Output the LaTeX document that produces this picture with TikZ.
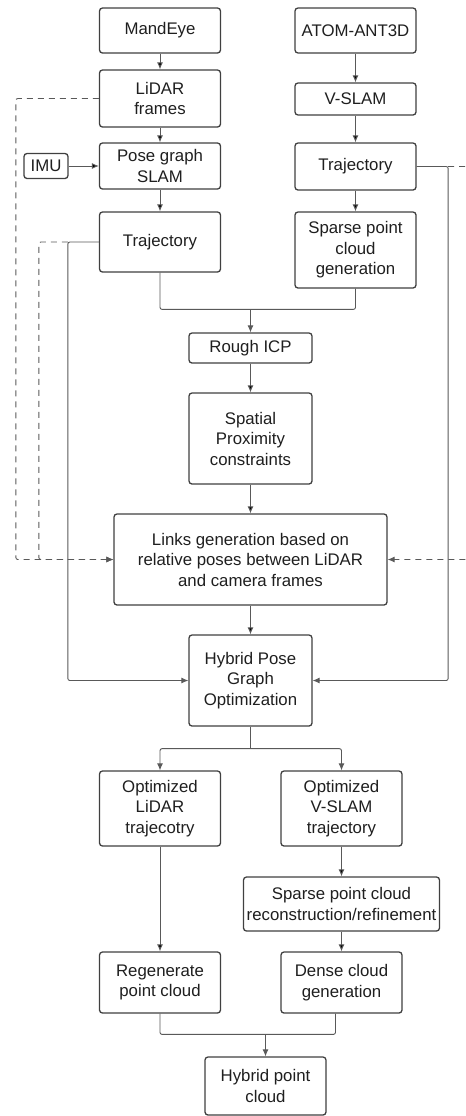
\documentclass[tikz,border=0pt]{standalone}
\usepackage{fontspec}
\setmainfont{Liberation Sans}
\usetikzlibrary{arrows.meta,positioning}

\begin{document}
\begin{tikzpicture}[x=1bp,y=1bp,on grid,
    blk/.style={draw=black!75,line width=1.3bp,rounded corners=3bp,fill=white,
        text=black!88,align=center,inner sep=2bp,minimum width=121bp,
        font=\fontsize{16.8bp}{20.5bp}\selectfont},
    link/.style={draw=black!65,line width=0.9bp,rounded corners=2bp,
        -{Latex[length=7bp,width=6bp]}},
    dlink/.style={link,dash pattern=on 6bp off 5bp}]
    \useasboundingbox (0,0) rectangle (466,-1116);
    % lidar branch
    \node[blk, minimum height=45bp] (mand) at (160,-30.5) {MandEye};
    \node[blk, minimum height=57bp] (lidar) [below=68bp of mand] {LiDAR\\frames};
    \node[blk, minimum height=46bp] (pose) [below=67.5bp of lidar] {Pose graph\\SLAM};
    \node[blk, minimum height=60bp] (traj_l) [below=76bp of pose] {Trajectory};
    \node[blk, minimum height=25bp, minimum width=44bp] (imu) [left=114bp of pose] {IMU};
    % camera branch
    \node[blk, minimum height=45bp] (atom) [right=195.5bp of mand] {ATOM-ANT3D};
    \node[blk, minimum height=32bp] (vslam) [below=68.5bp of atom] {V-SLAM};
    \node[blk, minimum height=47bp] (traj_r) [below=67.5bp of vslam] {Trajectory};
    \node[blk, minimum height=76bp] (sparse) [below=83.5bp of traj_r] {Sparse point\\cloud\\generation};
    % fusion
    \node[blk, minimum height=30bp, minimum width=123bp] (icp) [below right=106bp and 90.5bp of traj_l] {Rough ICP};
    \node[blk, minimum height=91bp, minimum width=123bp] (spatial) [below=90.5bp of icp] {Spatial\\Proximity\\constraints};
    \node[blk, minimum height=91bp, minimum width=273bp] (links) [below=121bp of spatial] {Links generation based on\\relative poses between LiDAR\\and camera frames};
    \node[blk, minimum height=91bp, minimum width=123bp] (hpgo) [below=121bp of links] {Hybrid Pose\\Graph\\Optimization};
    % outputs
    \node[blk, minimum height=75bp] (opt_l) [below left=128bp and 90.5bp of hpgo] {Optimized\\LiDAR\\trajecotry};
    \node[blk, minimum height=75bp] (opt_v) [right=181.5bp of opt_l] {Optimized\\V-SLAM\\trajectory};
    \node[blk, minimum height=54bp, minimum width=196bp] (recon) [below=95.5bp of opt_v] {Sparse point cloud\\reconstruction/refinement};
    \node[blk, minimum height=61bp] (regen) [below=174bp of opt_l] {Regenerate\\point cloud};
    \node[blk, minimum height=61bp] (dense) [right=181.5bp of regen] {Dense cloud\\generation};
    \node[blk, minimum height=58bp] (hpc) [below right=103.5bp and 105.5bp of regen] {Hybrid point\\cloud};

    \path[link]
        (mand) edge (lidar)
        (lidar) edge (pose)
        (imu) edge (pose)
        (pose) edge (traj_l)
        (atom) edge (vslam)
        (vslam) edge (traj_r)
        (traj_r) edge (sparse)
        (icp) edge (spatial)
        (spatial) edge (links)
        (links) edge (hpgo)
        (opt_l) edge (regen)
        (opt_v) edge (recon)
        (recon) edge (dense);

    % junctions
    \coordinate (mrg_a) at ([yshift=23bp]icp.north);
    \coordinate (spl) at ([yshift=-22bp]hpgo.south);
    \coordinate (mrg_b) at ([yshift=22bp]hpc.north);
    \coordinate (lft) at ([xshift=-31bp]traj_l.west);
    \coordinate (rgt) at ([xshift=31.5bp]traj_r.east);
    \coordinate (dl_a) at ([xshift=-83bp]lidar.west);
    \coordinate (dl_b) at ([xshift=-29bp]lft);
    \coordinate (dr) at ([xshift=22bp]rgt);

    \draw[link,-] (traj_l.south) |- (mrg_a);
    \draw[link,-] (sparse.south) |- (mrg_a);
    \draw[link] (mrg_a) -- (icp);
    \draw[link,-] (hpgo) -- (spl);
    \draw[link] (spl) -| (opt_l);
    \draw[link] (spl) -| (opt_v);
    \draw[link,-] (regen.south) |- (mrg_b);
    \draw[link,-] ([xshift=-6bp]dense.south) |- (mrg_b);
    \draw[link] (mrg_b) -- (hpc);

    % trajectories into the optimization
    \draw[link] (traj_l.west) -- (lft) |- (hpgo.west);
    \draw[link] (traj_r.east) -- (rgt) |- (hpgo.east);

    % frames into the links generation
    \draw[dlink] (lidar.west) -- (dl_a) |- (links.west);
    \draw[dlink] (lft) -- (dl_b) |- (links.west);
    \draw[dlink] (rgt) -- (dr) |- (links.east);
\end{tikzpicture}
\end{document}
